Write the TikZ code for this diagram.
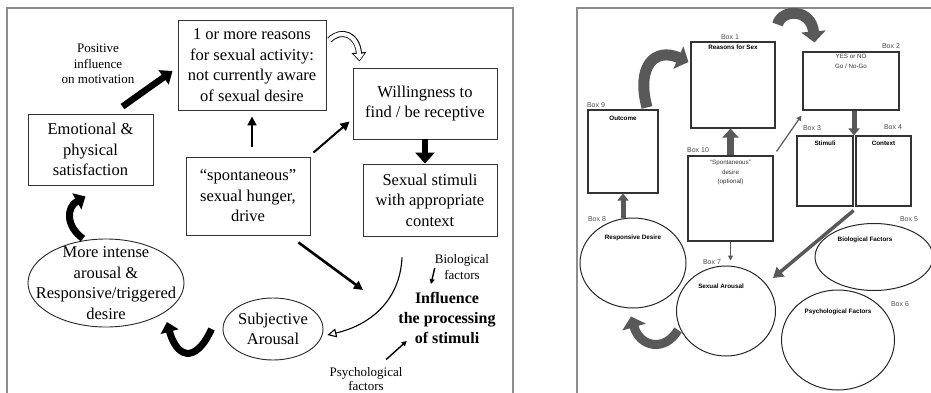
\documentclass[tikz,border=0pt]{standalone}
\usepackage{fontspec}
\setmainfont{Liberation Serif}
\setsansfont{Liberation Sans}
\usetikzlibrary{positioning,shapes.geometric,arrows.meta}

\tikzstyle{cadre}=[draw=black!45,line width=1.2pt]
\tikzstyle{boite}=[rectangle,draw=black!80,line width=0.9pt,align=center,inner sep=0pt,font=\fontsize{16.5}{20.5}\selectfont]
\tikzstyle{bulle}=[ellipse,draw=black!85,line width=0.9pt,align=center,font=\fontsize{16.5}{20.5}\selectfont]
\tikzstyle{note}=[align=center,inner sep=0pt,font=\fontsize{13}{15.5}\selectfont]
\tikzstyle{fleche}=[line width=2pt,-{Triangle[length=9pt,width=9pt]}]
\tikzstyle{grosse}=[line width=6.5pt,-{Triangle[length=11pt,width=17pt]}]
\tikzstyle{courbe}=[line width=7pt,-{Triangle[length=10pt,width=18pt]}]
\tikzstyle{creuse}=[line width=6pt,-{Triangle[length=9pt,width=14pt]},postaction={draw=white,line width=4.2pt,shorten >=1.3pt,-{Triangle[length=6.5pt,width=10.5pt]}}]
\tikzstyle{case}=[rectangle,draw=black!80,line width=1.1pt,inner sep=0pt]
\tikzstyle{rond}=[ellipse,draw=black!85,line width=1pt,inner sep=0pt]
\tikzstyle{numero}=[inner sep=0pt,font=\sffamily\fontsize{7}{8}\selectfont,text=black!70]
\tikzstyle{titre}=[inner sep=0pt,align=center,font=\sffamily\bfseries\fontsize{6.3}{7}\selectfont]
\tikzstyle{legende}=[inner sep=0pt,align=center,font=\sffamily\fontsize{6.2}{9.5}\selectfont,text=black!80]
\tikzstyle{gris}=[draw=black!65,line width=1.2pt,-{Triangle[length=5pt,width=5pt]}]
\tikzstyle{grisgros}=[draw=black!65,line width=5pt,-{Triangle[length=7pt,width=11pt]}]
\tikzstyle{ruban}=[draw=black!65,line width=11pt,-{Triangle[length=11pt,width=24pt]}]

\begin{document}
\begin{tikzpicture}[x=1pt,y=1pt]
\useasboundingbox (0,0) rectangle (931,392);
\clip (0,0) rectangle (931,392);

% left model
\draw[cadre] (7,-10) rectangle (513,384);

\node[boite,minimum width=148pt,minimum height=90pt] (raisons) at (252,327) {1 or more reasons\\for sexual activity:\\not currently aware\\of sexual desire};
\node[boite,minimum width=144pt,minimum height=71pt] (volonte) at (425,288.5) {Willingness to\\find / be receptive};
\node[boite,minimum width=134pt,minimum height=72pt] (stimuli) at (430,192) {Sexual stimuli\\with appropriate\\context};
\node[boite,minimum width=125pt,minimum height=71pt] (satisf) at (90.5,242.5) {Emotional \&\\physical\\satisfaction};
\node[boite,minimum width=124pt,minimum height=78pt] (faim) at (248,196) {“spontaneous”\\sexual hunger,\\drive};
\node[bulle,minimum width=156pt,minimum height=88pt,inner sep=-16pt] (intense) at (106,109) {More intense\\arousal \&\\Responsive/triggered\\desire};
\node[bulle,minimum width=100pt,minimum height=62pt,inner sep=-4pt] (subj) at (273,63) {Subjective\\Arousal};
\node[note] (positif) at (98,328) {Positive\\influence\\on motivation};
\node[note] (bio) at (462,125) {Biological\\factors};
\node[note,font=\bfseries\fontsize{16}{20}\selectfont] (influence) at (447,74) {Influence\\the processing\\of stimuli};
\node[note,font=\fontsize{13}{13.5}\selectfont] (psycho) at (366,13) {Psychological\\factors};
\coordinate (cible) at (363,102);
\coordinate (pointe) at (167,70);

\draw[fleche,shorten <=10pt,shorten >=6pt] (raisons.south |- faim.north) -- (raisons.south);
\draw[fleche] ([shift={(3pt,4pt)}]faim.north east) -- ([shift={(-3pt,-18pt)}]volonte.west);
\draw[grosse] ([shift={(32pt,7pt)}]satisf.north) -- ([shift={(-5pt,-6pt)}]raisons.west);
\draw[grosse,-{Triangle[length=11pt,width=19pt]}] (volonte.south) -- (volonte.south |- stimuli.north);
\draw[fleche,line width=2.6pt] ([shift={(-12pt,-7pt)}]faim.south east) -- (cible);
\draw[line width=1.1pt,-{Triangle[open,length=9pt,width=9pt]}] ([shift={(-28pt,-21pt)}]stimuli.south) .. controls +(-2,-43) and +(43,10) .. ([shift={(4pt,-6pt)}]subj.east);
\draw[courbe] ([xshift=-11pt]subj.west) .. controls +(-17,-37) and +(9,-34) .. (pointe);
\draw[courbe] ([xshift=-23pt]intense.north) .. controls +(-17,12) and +(-19.5,-11) .. ([shift={(-5pt,-11pt)}]satisf.south);
\draw[creuse] ([shift={(3pt,25pt)}]raisons.east) .. controls +(12,12) and +(-2,27) .. ([shift={(7pt,6pt)}]volonte.north west);
\draw[line width=1.4pt,-{Triangle[length=5pt,width=5pt]}] ([yshift=-1pt]bio.west) -- ([shift={(-16pt,8pt)}]influence.north);
\draw[line width=1.4pt,-{Triangle[length=5pt,width=5pt]}] ([shift={(-16.5pt,8pt)}]psycho.north east) -- ([shift={(8.5pt,3pt)}]influence.south west);

% right model
\draw[cadre] (577,-10) rectangle (945,384);

\node[case,minimum width=84pt,minimum height=86pt] (b1) at (733,307) {};
\node[case,minimum width=96pt,minimum height=58pt] (b2) at (851,311) {};
\node[case,minimum width=56pt,minimum height=70pt] (b3) at (825,221) {};
\node[case,minimum width=55pt,minimum height=70pt] (b4) at (883.5,221) {};
\node[case,minimum width=70pt,minimum height=83pt] (b9) at (623,240.5) {};
\node[case,minimum width=85pt,minimum height=85pt] (b10) at (730.5,193.5) {};
\node[rond,minimum width=106pt,minimum height=90pt] (b8) at (633,129) {};
\node[rond,minimum width=99pt,minimum height=90pt] (b7) at (726,81) {};
\node[rond,minimum width=118pt,minimum height=67pt] (b5) at (874,135) {};
\node[rond,minimum width=113pt,minimum height=100pt] (b6) at (838,52) {};

\node[numero] (n1) at (730,355) {Box 1};
\node[numero] (n2) at (891,346) {Box 2};
\node[numero] (n3) at (812,264) {Box 3};
\node[numero] (n4) at (893,265) {Box 4};
\node[numero] (n5) at (909,173) {Box 5};
\node[numero] (n6) at (900,88) {Box 6};
\node[numero] (n7) at (712,130) {Box 7};
\node[numero] (n8) at (597,173) {Box 8};
\node[numero] (n9) at (596,287) {Box 9};
\node[numero] (n10) at (698,242) {Box 10};

\node[titre,below=3pt of b1.north] (t1) {Reasons for Sex};
\node[legende,below=3pt of b2.north] (t2) {YES or NO\\Go / No-Go};
\node[titre,below=5pt of b3.north] (t3) {Stimuli};
\node[titre,below=5pt of b4.north] (t4) {Context};
\node[titre,below=6pt of b9.north] (t9) {Outcome};
\node[legende,below=5pt of b10.north] (t10) {“Spontaneous”\\desire\\(optional)};
\node[titre,below=17pt of b8.north] (t8) {Responsive Desire};
\node[titre,below=18pt of b7.north,xshift=-5pt] (t7) {Sexual Arousal};
\node[titre,below=14pt of b5.north,xshift=-9pt] (t5) {Biological Factors};
\node[titre,below=19pt of b6.north] (t6) {Psychological Factors};

\draw[grisgros] (b9.south |- b8.north) -- (b9.south);
\draw[grisgros,line width=7pt,-{Triangle[length=9pt,width=16pt]}] (b10.north) -- (b10.north |- b1.south);
\draw[grisgros] ([xshift=3pt]b2.south) -- ([xshift=3pt]b2.south |- b3.north);
\draw[gris] ([shift={(3pt,4pt)}]b10.north east) -- ([shift={(-1pt,-5pt)}]b2.south west);
\draw[gris,shorten >=5pt] (b10.south) -- (b10.south |- b7.north);
\draw[draw=black!65,line width=3.5pt,-{Triangle[length=10pt,width=12pt]}] ([yshift=-4pt]b3.south east) -- ([shift={(-3pt,33pt)}]b7.east);
\draw[ruban] ([shift={(24pt,2pt)}]b9.north) .. controls +(-11,41) and +(-34,15) .. ([shift={(-2pt,23pt)}]b1.west);
\draw[ruban] ([shift={(2pt,17pt)}]b1.north east) .. controls +(4,16) and +(-3,34) .. ([shift={(12pt,9pt)}]b2.north west);
\draw[ruban,line width=9pt] ([shift={(2pt,-19pt)}]b7.west) .. controls +(-13,-22) and +(9,-31) .. ([shift={(-2pt,-8pt)}]b8.south);
\end{tikzpicture}
\end{document}
